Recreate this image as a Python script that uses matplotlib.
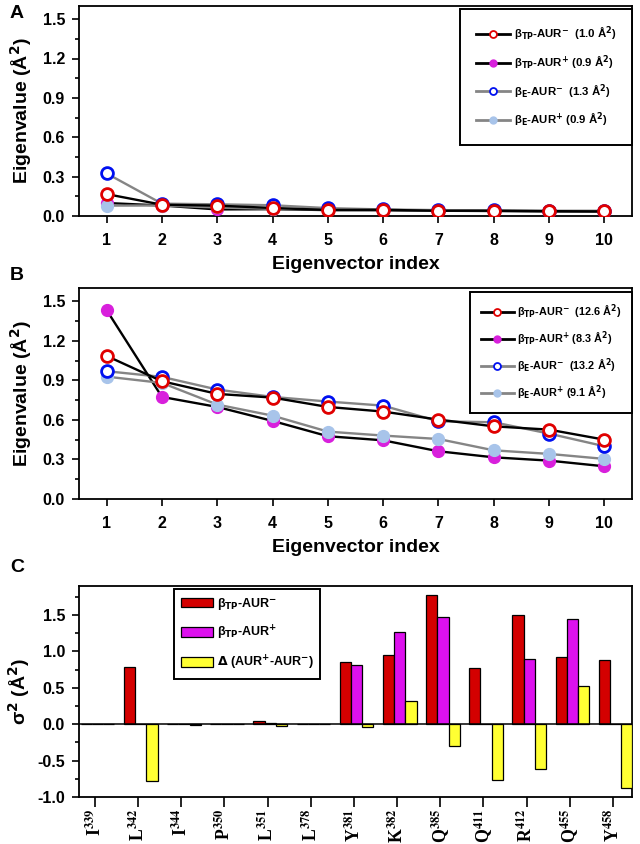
import numpy as np
import matplotlib
matplotlib.use("Agg")
import matplotlib.pyplot as plt
from matplotlib.lines import Line2D
from matplotlib.ticker import MultipleLocator, FormatStrFormatter

plt.rcParams['font.family'] = ['Liberation Sans', 'DejaVu Sans']
plt.rcParams['font.weight'] = 'bold'
plt.rcParams['axes.labelweight'] = 'bold'

# ---- data ----
eig_index = [1, 2, 3, 4, 5, 6, 7, 8, 9, 10]

# panel A
a_tp_minus = [0.167, 0.086, 0.079, 0.061, 0.046, 0.047, 0.040, 0.040, 0.037, 0.035]
a_tp_plus = [0.099, 0.080, 0.050, 0.052, 0.045, 0.044, 0.040, 0.038, 0.035, 0.033]
a_e_minus = [0.324, 0.094, 0.089, 0.082, 0.060, 0.050, 0.045, 0.042, 0.040, 0.040]
a_e_plus = [0.079, 0.080, 0.065, 0.055, 0.050, 0.046, 0.042, 0.040, 0.037, 0.035]
a_totals = ['1.0', '0.9', '1.3', '0.9']

# panel B
b_tp_minus = [1.085, 0.893, 0.797, 0.769, 0.698, 0.663, 0.602, 0.551, 0.526, 0.450]
b_tp_plus = [1.432, 0.774, 0.698, 0.592, 0.476, 0.445, 0.362, 0.316, 0.291, 0.248]
b_e_minus = [0.969, 0.926, 0.830, 0.774, 0.739, 0.708, 0.589, 0.582, 0.496, 0.400]
b_e_plus = [0.928, 0.880, 0.716, 0.632, 0.511, 0.481, 0.455, 0.369, 0.342, 0.304]
b_totals = ['12.6', '8.3', '13.2', '9.1']

# panel C
residues = ['I', 'L', 'I', 'P', 'L', 'L', 'Y', 'K', 'Q', 'Q', 'R', 'Q', 'Y']
res_nums = ['339', '342', '344', '350', '351', '378', '381', '382', '385', '411', '412', '455', '458']
c_tp_minus = [0, 0.79, 0.01, 0, 0.04, 0, 0.85, 0.95, 1.77, 0.77, 1.50, 0.93, 0.88]
c_tp_plus = [0, 0.01, 0.01, 0, 0.02, 0, 0.81, 1.27, 1.48, 0, 0.90, 1.45, 0]
c_delta = [0, -0.78, -0.01, 0, -0.02, 0, -0.04, 0.32, -0.30, -0.77, -0.61, 0.52, -0.88]

RED = '#e00000'
BLUE = '#0010f0'
MAG = '#d820dc'
LBLUE = '#a8c4ea'
GRAY = '#858585'

W, H = 640, 844
fig = plt.figure(figsize=(W / 100, H / 100), dpi=100)


def px_axes(left, top, right, bottom):
    return fig.add_axes([left / W, 1 - bottom / H, (right - left) / W, (bottom - top) / H])


def style_axes(ax):
    for s in ax.spines.values():
        s.set_linewidth(1.3)
    ax.tick_params(which='both', direction='out', width=1.2, labelsize=11.5)
    ax.tick_params(which='major', length=5, pad=5)
    ax.tick_params(which='minor', length=3)
    for lab in ax.get_xticklabels() + ax.get_yticklabels():
        lab.set_fontweight('bold')


def eig_panel(ax, tpm, tpp, em, ep, totals, fs, lspace, bpad, anchor_y):
    ms, mew, lw = 8.5, 2.0, 1.7
    ax.plot(eig_index, tpp, color='black', lw=lw, marker='o', ms=ms,
            mfc=MAG, mec=MAG, zorder=3)
    ax.plot(eig_index, ep, color=GRAY, lw=lw, marker='o', ms=ms,
            mfc=LBLUE, mec=LBLUE, zorder=3)
    ax.plot(eig_index, em, color=GRAY, lw=lw, marker='o', ms=ms,
            mfc='white', mec=BLUE, mew=mew, zorder=4)
    ax.plot(eig_index, tpm, color='black', lw=lw, marker='o', ms=ms,
            mfc='white', mec=RED, mew=mew, zorder=5)
    ax.set_xlim(0.5, 10.5)
    ax.set_ylim(0, 1.6)
    ax.set_xticks(eig_index)
    ax.yaxis.set_major_locator(MultipleLocator(0.3))
    ax.yaxis.set_minor_locator(MultipleLocator(0.15))
    ax.yaxis.set_major_formatter(FormatStrFormatter('%.1f'))
    ax.set_xlabel('Eigenvector index', fontsize=14, labelpad=6)
    ax.set_ylabel('Eigenvalue (Å$^2$)', fontsize=14, labelpad=6)
    style_axes(ax)
    ax.tick_params(axis='x', which='major', pad=7)

    handles = [
        Line2D([], [], color='black', lw=2, marker='o', ms=5, mfc='white', mec=RED, mew=1.3),
        Line2D([], [], color='black', lw=2, marker='o', ms=5, mfc=MAG, mec=MAG),
        Line2D([], [], color=GRAY, lw=2, marker='o', ms=5, mfc='white', mec=BLUE, mew=1.3),
        Line2D([], [], color=GRAY, lw=2, marker='o', ms=5, mfc=LBLUE, mec=LBLUE),
    ]
    labels = [
        r'β$_{\rm TP}$-AUR$^{-}$  (%s Å$^2$)' % totals[0],
        r'β$_{\rm TP}$-AUR$^{+}$ (%s Å$^2$)' % totals[1],
        r'β$_{\rm E}$-AUR$^{-}$  (%s Å$^2$)' % totals[2],
        r'β$_{\rm E}$-AUR$^{+}$ (%s Å$^2$)' % totals[3],
    ]
    leg = ax.legend(handles, labels, loc='upper right', bbox_to_anchor=(1.0, anchor_y),
                    borderaxespad=0, fancybox=False, framealpha=1, edgecolor='black',
                    prop={'size': fs, 'weight': 'bold'}, handlelength=3.0,
                    handletextpad=0.3, labelspacing=lspace, borderpad=bpad)
    leg.get_frame().set_linewidth(1.4)


# panel A
axA = px_axes(79, 6, 632, 216)
eig_panel(axA, a_tp_minus, a_tp_plus, a_e_minus, a_e_plus, a_totals, 8.2, 0.9, 1.4, 0.986)

# panel B
axB = px_axes(79, 288, 632, 499)
eig_panel(axB, b_tp_minus, b_tp_plus, b_e_minus, b_e_plus, b_totals, 7.8, 0.78, 1.0, 0.981)

# panel C
axC = px_axes(79, 586, 632, 797)
pos = np.arange(len(residues))
bw = 0.26
axC.bar(pos - 0.2, c_tp_minus, bw, color='#d40000', edgecolor='black', lw=0.9,
        label=r'β$_{\rm TP}$-AUR$^{-}$', zorder=3)
axC.bar(pos + 0.06, c_tp_plus, bw, color='#dd11ee', edgecolor='black', lw=0.9,
        label=r'β$_{\rm TP}$-AUR$^{+}$', zorder=3)
axC.bar(pos + 0.32, c_delta, bw, color='#ffff33', edgecolor='black', lw=0.9,
        label=r'$\Delta$ (AUR$^{+}$-AUR$^{-}$)', zorder=3)
axC.axhline(0, color='black', lw=1.1, zorder=4)
axC.set_xlim(-0.37, 12.44)
axC.set_ylim(-1.0, 1.9)
axC.yaxis.set_major_locator(MultipleLocator(0.5))
axC.yaxis.set_minor_locator(MultipleLocator(0.25))
axC.yaxis.set_major_formatter(FormatStrFormatter('%.1f'))
axC.set_xticks(pos)
axC.set_xticklabels([r + '$^{' + n + '}$' for r, n in zip(residues, res_nums)])
axC.set_ylabel('σ$^2$ (Å$^2$)', fontsize=14, labelpad=4)
style_axes(axC)
axC.tick_params(axis='x', length=7, pad=1.5)
for lab in axC.get_xticklabels():
    lab.set_rotation(90)
    lab.set_fontfamily('Liberation Serif')
    lab.set_fontweight('bold')
    lab.set_fontsize(12.8)
    lab.set_math_fontfamily('stix')
    lab.set_va('top')
legC = axC.legend(loc='upper left', bbox_to_anchor=(0.172, 0.986), borderaxespad=0,
                  fancybox=False, framealpha=1, edgecolor='black',
                  prop={'size': 9, 'weight': 'bold'}, handlelength=2.6,
                  handleheight=0.85, handletextpad=0.25, labelspacing=0.95, borderpad=0.55)
legC.get_frame().set_linewidth(1.4)

# panel letters
fig.text(10 / W, 1 - 14 / H, 'A', fontsize=14, fontweight='bold', va='center', ha='left')
fig.text(10 / W, 1 - 275 / H, 'B', fontsize=14, fontweight='bold', va='center', ha='left')
fig.text(10 / W, 1 - 567 / H, 'C', fontsize=14, fontweight='bold', va='center', ha='left')

fig.savefig('out.png', dpi=100, facecolor='white')
